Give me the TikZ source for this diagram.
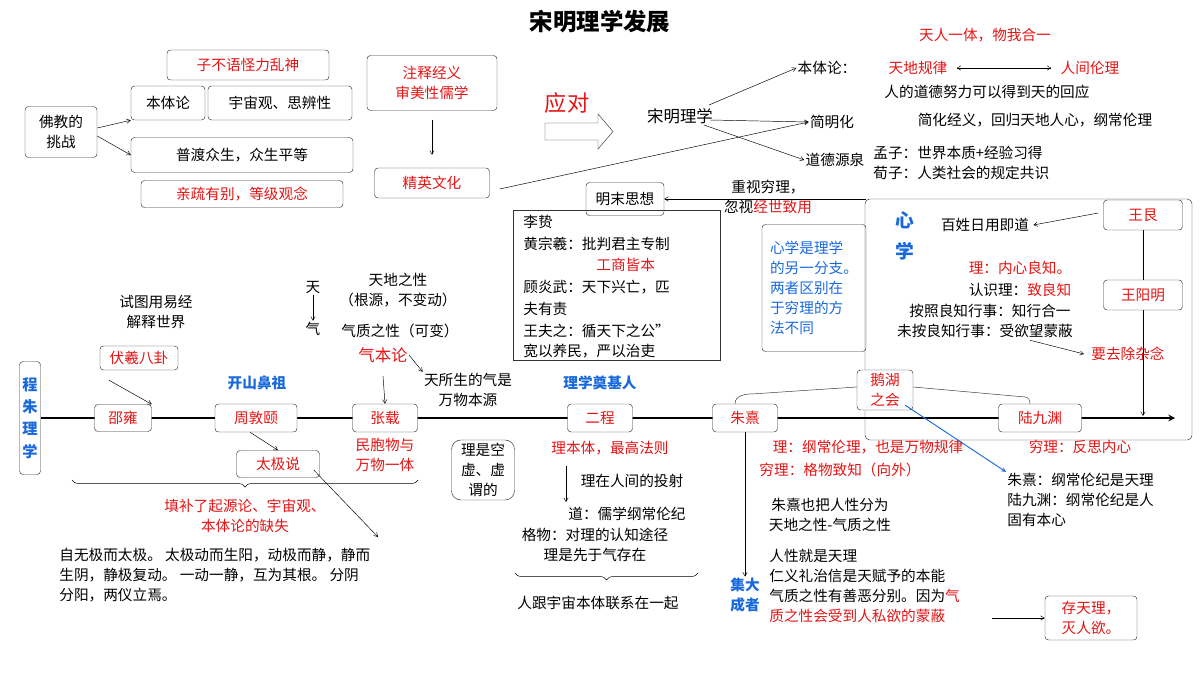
\documentclass[tikz,border=0pt]{standalone}
\usepackage{fontspec}
\setmainfont{Noto Sans CJK SC}
\usetikzlibrary{positioning,arrows,decorations.pathreplacing}
\definecolor{hong}{RGB}{228,20,20}
\definecolor{lan}{RGB}{25,105,220}
\tikzstyle{box} = [rectangle, rounded corners=3pt, draw=black!80, align=center, inner sep=2pt]
\tikzstyle{redbox} = [box, text=hong]
\tikzstyle{txt} = [align=center, inner sep=1pt]
\tikzstyle{rtxt} = [txt, text=hong]
\tikzstyle{btxt} = [txt, text=lan, font=\fontsize{12.5}{17}\selectfont\bfseries]
\tikzstyle{ltxt} = [align=left, anchor=west, inner sep=1pt]
\tikzstyle{arrow} = [->,>=stealth']
\tikzstyle{varrow} = [->,>=angle 60]
\begin{document}
\begin{tikzpicture}[x=0.03cm, y=-0.03cm, font=\fontsize{12.5}{17}\selectfont]
\useasboundingbox (0,0) rectangle (1200,675);
\node (title) [txt, font=\fontsize{20}{24}\selectfont\bfseries] at (600,22) {宋明理学发展};
% challenge
\node (fojiao) [box, minimum width=72*0.03cm, minimum height=51*0.03cm] at (61,132) {佛教的\\挑战};
\node (buyu) [redbox, minimum width=162*0.03cm, minimum height=30*0.03cm] at (248,65) {子不语怪力乱神};
\node (benti) [box, minimum width=74*0.03cm, minimum height=34*0.03cm] at (168,103) {本体论};
\node (yuzhou) [box, minimum width=144*0.03cm, minimum height=34*0.03cm] at (280,103) {宇宙观、思辨性};
\node (pudu) [box, minimum width=222*0.03cm, minimum height=35*0.03cm] at (242,155) {普渡众生，众生平等};
\node (qinshu) [redbox, minimum width=202*0.03cm, minimum height=27*0.03cm] at (242,194) {亲疏有别，等级观念};
\draw[varrow] (fojiao.east) ++(0,-4) -- (benti.south west);
\draw[varrow] (fojiao.east) ++(0,4) -- (pudu.west);
\node (zhushi) [redbox, minimum width=130*0.03cm, minimum height=55*0.03cm] at (432,83) {注释经义\\审美性儒学};
\node (jingying) [redbox, minimum width=115*0.03cm, minimum height=30*0.03cm] at (432,183) {精英文化};
\draw[varrow] ([yshift=-9*0.03cm]zhushi.south) -- ([yshift=13*0.03cm]jingying.north);
\node (yingdui) [rtxt, font=\fontsize{19}{22}\selectfont] at (567,103) {应对};
\draw[black!80] (545,123) -- (598,123) -- (598,114) -- (613,131.5) -- (598,149) -- (598,140) -- (545,140) -- cycle;
\node (songming) [txt, font=\fontsize{14}{17}\selectfont] at (680,116) {宋明理学};
\node (bentilun) [txt] at (827,68) {本体论：};
\node (jianming) [txt] at (832,122) {简明化};
\node (daode) [txt] at (835,160) {道德源泉};
\draw[varrow] (songming.north east) ++(-5,-2) -- (bentilun.west);
\draw[varrow] (songming.east) ++(-4,4) -- (jianming.west);
\draw[varrow] (songming.south east) ++(-10,0) -- (daode.west);
\draw[varrow] (jingying.east) ++(10,6) -- (jianming.west);
\node (tianren) [rtxt] at (985,35) {天人一体，物我合一};
\node (tiandi) [rtxt] at (918,68) {天地规律};
\node (renjian) [rtxt] at (1090,68) {人间伦理};
\draw[<->,>=angle 60] (tiandi.east) ++(8,0) -- ([xshift=-8*0.03cm]renjian.west);
\node (huiying) [txt] at (987,92) {人的道德努力可以得到天的回应};
\node (jianhua) [txt] at (1035,120) {简化经义，回归天地人心，纲常伦理};
\node (mengzi) [ltxt] at (872,153) {孟子：世界本质+经验习得};
\node (xunzi) [ltxt] at (872,173) {荀子：人类社会的规定共识};
% late Ming
\node (mingmo) [box, minimum width=78*0.03cm, minimum height=33*0.03cm] at (625,199) {明末思想};
\draw[black!80] (513,210) rectangle (720,360);
\node (lizhi) [ltxt] at (522,222) {李贽};
\node (huang) [ltxt] at (522,244) {黄宗羲：批判君主专制};
\node (gongshang) [ltxt, text=hong] at (595,265) {工商皆本};
\node (gu) [ltxt] at (522,287) {顾炎武：天下兴亡，匹};
\node (gu2) [ltxt] at (522,309) {夫有责};
\node (wang) [ltxt] at (522,331) {王夫之：循天下之公”};
\node (wang2) [ltxt] at (522,351) {宽以养民，严以治吏};
\coordinate (xinTL) at (866,199);
\draw[varrow] (xinTL) -- (mingmo.east);
\node (zhongshi) [txt] at (768,187) {重视穷理，};
\node (hushi) [txt] at (768,207) {忽视\textcolor{hong}{经世致用}};
% xinxue
\draw[black!80, rounded corners=4pt] (865,199) rectangle (1192,440);
\node (fenzhi) [box, text=lan, align=left, minimum width=104*0.03cm, minimum height=127*0.03cm] at (814,288) {心学是理学\\的另一分支。\\两者区别在\\于穷理的方\\法不同};
\node (xin) [btxt, font=\fontsize{16}{20}\selectfont\bfseries] at (905,220) {心};
\node (xue) [btxt, font=\fontsize{16}{20}\selectfont\bfseries] at (905,251) {学};
\node (baixing) [txt] at (985,225) {百姓日用即道};
\node (wanggen) [redbox, minimum width=79*0.03cm, minimum height=30*0.03cm] at (1143,215) {王艮};
\node (wangyang) [redbox, minimum width=79*0.03cm, minimum height=30*0.03cm] at (1143,295) {王阳明};
\draw[varrow] (wanggen.west) ++(-5,-2) -- ([xshift=3*0.03cm]baixing.east);
\draw (wanggen.south) -- (wangyang.north);
\coordinate (yangEnd) at (1143,416);
\draw[varrow] (wangyang.south) -- (yangEnd);
\node (neixin) [rtxt] at (1020,268) {理：内心良知。};
\node (renshi) [txt] at (1020,290) {认识理：\textcolor{hong}{致良知}};
\node (anzhao) [txt] at (990,311) {按照良知行事：知行合一};
\node (weian) [txt] at (985,331) {未按良知行事：受欲望蒙蔽};
\node (zaonian) [rtxt] at (1128,354) {要去除杂念};
\draw[varrow] (weian.south) ++(45,1) -- ([xshift=-6*0.03cm]zaonian.west);
% timeline
\node (chengzhu) [box, text=lan, font=\fontsize{13}{19}\selectfont\bfseries, minimum width=21*0.03cm, minimum height=113*0.03cm] at (30,418) {程\\朱\\理\\学};
\coordinate (lineEnd) at (1175,418);
\draw[line width=1.5pt, ->, >=stealth] (chengzhu.east) -- (lineEnd);
\node (shaoyong) [redbox, fill=white, minimum width=57*0.03cm, minimum height=27*0.03cm] at (123,418) {邵雍};
\node (zhoudun) [redbox, fill=white, minimum width=82*0.03cm, minimum height=28*0.03cm] at (256,418) {周敦颐};
\node (zhangzai) [redbox, fill=white, minimum width=65*0.03cm, minimum height=28*0.03cm] at (385,418) {张载};
\node (ercheng) [redbox, fill=white, minimum width=65*0.03cm, minimum height=28*0.03cm] at (600,418) {二程};
\node (zhuxi) [redbox, fill=white, minimum width=65*0.03cm, minimum height=28*0.03cm] at (745,418) {朱熹};
\node (ehu) [redbox, fill=white, minimum width=56*0.03cm, minimum height=40*0.03cm] at (885,390) {鹅湖\\之会};
\node (lujiu) [redbox, fill=white, minimum width=83*0.03cm, minimum height=28*0.03cm] at (1040,418) {陆九渊};
\draw[black!80] ([xshift=-10*0.03cm]zhuxi.north) to[out=90, in=180] ++(20,-10) -- ([yshift=3*0.03cm]ehu.west);
\draw[black!80] ([yshift=3*0.03cm]ehu.east) -- (1025,397) to[out=0, in=90] ([xshift=-10*0.03cm]lujiu.north);
% early masters
\node (fuxi) [redbox, minimum width=78*0.03cm, minimum height=24*0.03cm] at (139,358) {伏羲八卦};
\draw[varrow] (fuxi.south) ++(-30,10) -- (shaoyong.north east);
\node (yijing) [txt] at (156,312) {试图用易经\\解释世界};
\node (kaishan) [btxt] at (257,383) {开山鼻祖};
\node (taiji) [redbox, minimum width=83*0.03cm, minimum height=27*0.03cm] at (278,464) {太极说};
\draw[varrow] (zhoudun.south) ++(-6,0) -- (taiji.north);
\node (tian) [txt] at (313,287) {天};
\node (qi) [txt] at (313,329) {气};
\draw[varrow] (tian.south) -- (qi.north);
\node (tiandixing) [txt] at (398,290) {天地之性\\（根源，不变动）};
\node (qizhi) [txt] at (400,331) {气质之性（可变）};
\node (qibenlun) [rtxt, font=\fontsize{14}{17}\selectfont] at (383,355) {气本论};
\draw[varrow] (qibenlun.south) ++(0,12) -- (zhangzai.north);
\node (tiansuo) [txt] at (468,390) {天所生的气是\\万物本源};
\draw[varrow] (qibenlun.east) -- (tiansuo.north west);
\node (minbao) [rtxt] at (385,455) {民胞物与\\万物一体};
\draw[decorate, decoration={brace, mirror, amplitude=6pt}] (72,480) -- (418,480);
\node (tianbu) [rtxt] at (245,516) {填补了起源论、宇宙观、\\本体论的缺失};
\node (wuji) [ltxt, align=left] at (58,575) {自无极而太极。 太极动而生阳，动极而静，静而\\生阴，静极复动。 一动一静，互为其根。 分阴\\分阳，两仪立焉。};
\coordinate (wujiEnd) at (378,537);
\draw[varrow] (taiji.east) ++(-6,6) -- (wujiEnd);
% Cheng brothers
\node (dianji) [btxt] at (600,383) {理学奠基人};
\node (kongxu) [box, rounded corners=8pt, minimum width=63*0.03cm, minimum height=60*0.03cm] at (483,470) {理是空\\虚、虚\\谓的};
\node (libenti) [rtxt] at (610,448) {理本体，最高法则};
\node (touying) [txt] at (632,481) {理在人间的投射};
\node (dao) [txt] at (627,514) {道：儒学纲常伦纪};
\draw[varrow] (566,466) -- (566,502);
\node (gewu) [txt] at (595,545) {格物：对理的认知途径\\理是先于气存在};
\draw[decorate, decoration={brace, mirror, amplitude=6pt}] (515,573) -- (698,573);
\node (lianxi) [txt] at (598,603) {人跟宇宙本体联系在一起};
% Zhu Xi and Lu Jiuyuan
\node (gangchang) [rtxt] at (868,447) {理：纲常伦理，也是万物规律};
\node (gewuzhi) [rtxt] at (840,470) {穷理：格物致知（向外）};
\node (fansi) [rtxt] at (1080,447) {穷理：反思内心};
\node (zhulu) [ltxt, align=left] at (1006,500) {朱熹：纲常伦纪是天理\\陆九渊：纲常伦纪是人\\固有本心};
\draw[->, >=stealth, lan, thick] (ehu.south east) ++(-8,-5) -- (zhulu.north west);
\node (jida) [btxt] at (745,595) {集大\\成者};
\draw[varrow] (zhuxi.south) -- (jida.north);
\node (renxing) [txt] at (830,515) {朱熹也把人性分为\\天地之性-气质之性};
\node (tianli) [ltxt, align=left] at (768,586) {人性就是天理\\仁义礼治信是天赋予的本能\\气质之性有善恶分别。因为\textcolor{hong}{气}\\\textcolor{hong}{质之性会受到人私欲的蒙蔽}};
\node (cuntian) [redbox, minimum width=92*0.03cm, minimum height=44*0.03cm] at (1091,618) {存天理，\\灭人欲。};
\draw[varrow] (992,618) -- (cuntian.west);
\end{tikzpicture}
\end{document}
